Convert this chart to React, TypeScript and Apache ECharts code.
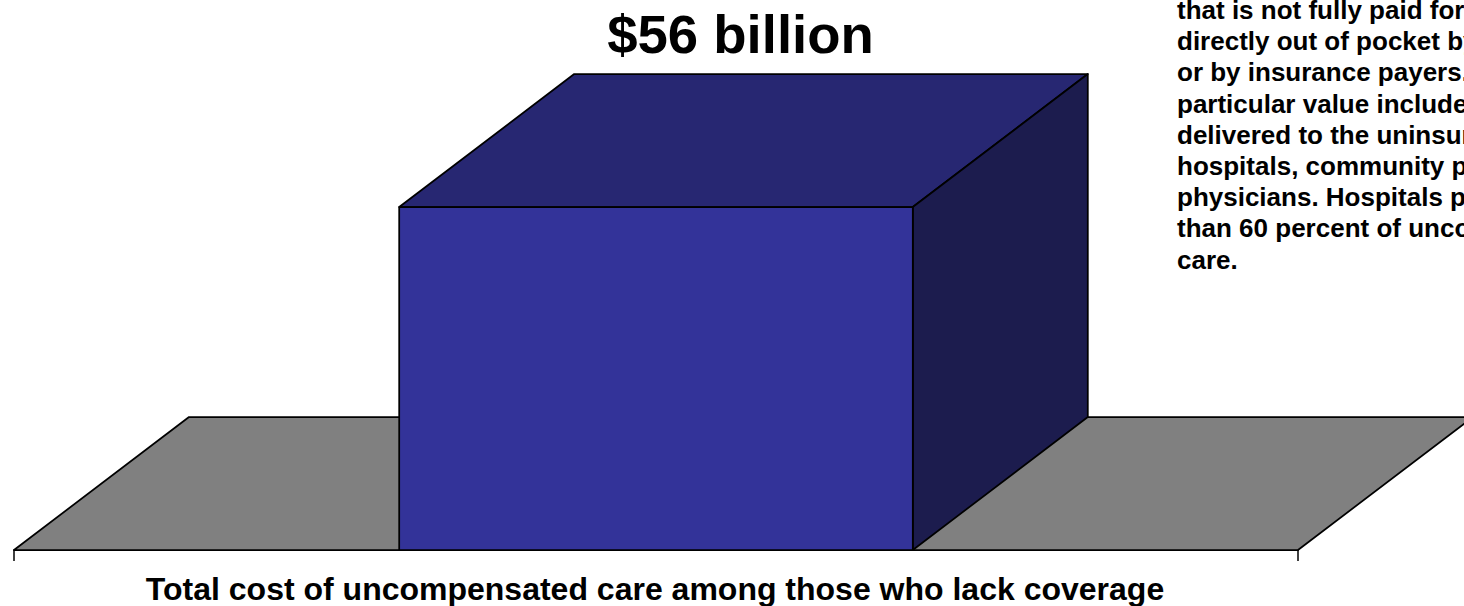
import React, { useEffect, useRef } from "react";
import * as echarts from "echarts";

const categories = ["Total cost of uncompensated care among those who lack coverage"];
const values = [56];
const valueLabels = ["$56 billion"];
const noteLines = [
  "that is not fully paid for",
  "directly out of pocket by the",
  "or by insurance payers. This",
  "particular value includes care",
  "delivered to the uninsured by",
  "hospitals, community providers and",
  "physicians. Hospitals provide more",
  "than 60 percent of uncompensated",
  "care.",
];

const FONT = "'Liberation Sans', Arial, Helvetica, sans-serif";
const DX = 175;
const DY = 133;

export default function App() {
  const ref = useRef<HTMLDivElement>(null);

  useEffect(() => {
    if (!ref.current) return;
    const chart = echarts.init(ref.current, undefined, { renderer: "svg" });

    const renderItem = (params: any, api: any) => {
      const cs = params.coordSys;
      const idx = api.value(0);
      const val = api.value(1);
      const base = api.coord([idx, 0]);
      const top = api.coord([idx, val]);
      const band = api.size([1, 0])[0];
      const w = band * 0.4;
      const x0 = base[0] - w / 2;
      const x1 = base[0] + w / 2;
      const yb = base[1];
      const yt = top[1];
      const stroke = { stroke: "#000", lineWidth: 1.75, lineJoin: "round" };
      const left = cs.x;
      const right = cs.x + cs.width;
      return {
        type: "group",
        children: [
          {
            type: "polygon",
            shape: {
              points: [
                [left, yb],
                [right, yb],
                [right + DX, yb - DY],
                [left + DX, yb - DY],
              ],
            },
            style: { fill: "#808080", ...stroke },
          },
          {
            type: "polygon",
            shape: {
              points: [
                [x0, yt],
                [x1, yt],
                [x1 + DX, yt - DY],
                [x0 + DX, yt - DY],
              ],
            },
            style: { fill: "#272772", ...stroke },
          },
          {
            type: "polygon",
            shape: {
              points: [
                [x1, yt],
                [x1 + DX, yt - DY],
                [x1 + DX, yb - DY],
                [x1, yb],
              ],
            },
            style: { fill: "#1c1c4e", ...stroke },
          },
          {
            type: "rect",
            shape: { x: x0, y: yt, width: w, height: yb - yt },
            style: { fill: "#333399", ...stroke },
          },
          {
            type: "text",
            x: base[0] + DX / 2 - 3,
            y: yt - DY - 40,
            style: {
              text: valueLabels[params.dataIndex],
              x: 0,
              y: 0,
              align: "center",
              verticalAlign: "middle",
              fontSize: 54.5,
              fontWeight: "bold",
              fontFamily: FONT,
              fill: "#000",
            },
          },
          {
            type: "text",
            x: base[0] - 1,
            y: yb + 39,
            style: {
              text: categories[params.dataIndex],
              x: 0,
              y: 0,
              align: "center",
              verticalAlign: "middle",
              fontSize: 32,
              fontWeight: "bold",
              fontFamily: FONT,
              fill: "#000",
            },
          },
        ],
      };
    };

    chart.setOption({
      animation: false,
      grid: { left: 14, right: 166, top: 60, bottom: 56 },
      xAxis: {
        type: "category",
        data: categories,
        boundaryGap: true,
        axisLine: { show: true, lineStyle: { color: "#000", width: 1.5 } },
        axisTick: { show: true, length: 11, lineStyle: { color: "#000", width: 1.5 } },
        axisLabel: { show: false },
        splitLine: { show: false },
      },
      yAxis: {
        type: "value",
        min: 0,
        max: 80,
        show: false,
      },
      graphic: noteLines.map((line, i) => ({
        type: "text",
        x: 1177,
        y: 10 + i * 31.2,
        style: {
          text: line,
          x: 0,
          y: 0,
          align: "left",
          verticalAlign: "middle",
          fontSize: 26,
          fontWeight: "bold",
          fontFamily: FONT,
          fill: "#000",
        },
      })),
      series: [
        {
          type: "custom",
          silent: true,
          clip: false,
          renderItem,
          data: values.map((v, i) => [i, v]),
        },
      ],
    });

    return () => chart.dispose();
  }, []);

  return (
    <div
      ref={ref}
      style={{ position: "fixed", left: 0, top: 0, width: 1464, height: 606, overflow: "hidden", background: "#fff" }}
    />
  );
}
